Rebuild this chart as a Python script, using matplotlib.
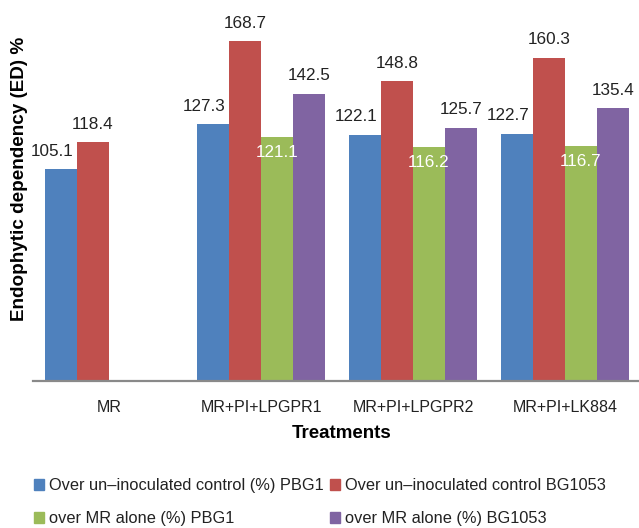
import numpy as np
import matplotlib
matplotlib.use('Agg')
import matplotlib.pyplot as plt
from matplotlib.patches import Patch

plt.rcParams['font.family'] = ['Liberation Sans', 'DejaVu Sans']

# Data
treatments = ['MR', 'MR+PI+LPGPR1', 'MR+PI+LPGPR2', 'MR+PI+LK884']
ctrl_pbg1 = [105.1, 127.3, 122.1, 122.7]
ctrl_bg1053 = [118.4, 168.7, 148.8, 160.3]
mr_pbg1 = [np.nan, 121.1, 116.2, 116.7]
mr_bg1053 = [np.nan, 142.5, 125.7, 135.4]
series_names = ['Over un\u2013inoculated control (%) PBG1',
                'Over un\u2013inoculated control BG1053',
                'over MR alone (%) PBG1',
                'over MR alone (%) BG1053']

colors = ['#4F81BD', '#C0504D', '#9BBB59', '#8064A2']
text_col = '#222222'

W, H = 639, 528
fig = plt.figure(figsize=(W / 100, H / 100), dpi=100)
ax = fig.add_axes([33 / W, 1 - 380.5 / H, 1 - 33 / W, 380.5 / H])

x = np.arange(len(treatments))
bw = 32 / 152
all_series = [ctrl_pbg1, ctrl_bg1053, mr_pbg1, mr_bg1053]
# label placement per series: (dx px, dy px, color)
label_style = [(-9, 18, text_col), (0, 18, text_col), (0, -16, 'white'), (0, 18, text_col)]

for k, vals in enumerate(all_series):
    pos = x + (k - 1.5) * bw
    ax.bar(pos, vals, width=bw, color=colors[k], linewidth=0)
    dx, dy, tc = label_style[k]
    for px_, v in zip(pos, vals):
        if np.isnan(v):
            continue
        ax.annotate('{:.1f}'.format(v), (px_, v), xytext=(dx, dy),
                    textcoords='offset pixels', ha='center', va='center',
                    fontsize=12.3, color=tc)

ax.set_xlim(-0.5, 3 + (W - 565) / 152)
ax.set_ylim(0, 380.5 / 2.012)
ax.set_xticks(x)
ax.set_xticklabels(treatments, fontsize=11.5, color=text_col)
ax.tick_params(axis='x', length=0, pad=14)
ax.set_yticks([])
for s in ['top', 'right', 'left']:
    ax.spines[s].set_visible(False)
ax.spines['bottom'].set_color('#898989')
ax.spines['bottom'].set_linewidth(1.6)

fig.text(20 / W, 1 - 179 / H, 'Endophytic dependency (ED) %', rotation=90,
         ha='center', va='center', fontsize=13.6, fontweight='bold', color='black')
fig.text(342 / W, 1 - 433 / H, 'Treatments', ha='center', va='center',
         fontsize=13.5, fontweight='bold', color='black')

handles = [Patch(color=colors[i]) for i in [0, 2, 1, 3]]
labels = [series_names[i] for i in [0, 2, 1, 3]]
fig.legend(handles, labels, ncol=2, loc='upper left',
           bbox_to_anchor=(34 / W, 1 - 478 / H), frameon=False,
           fontsize=11.8, handlelength=0.62, handleheight=0.62,
           handletextpad=0.3, columnspacing=0.37, labelspacing=1.12,
           borderpad=0, borderaxespad=0, labelcolor=text_col)

fig.savefig('out.png', dpi=100)
